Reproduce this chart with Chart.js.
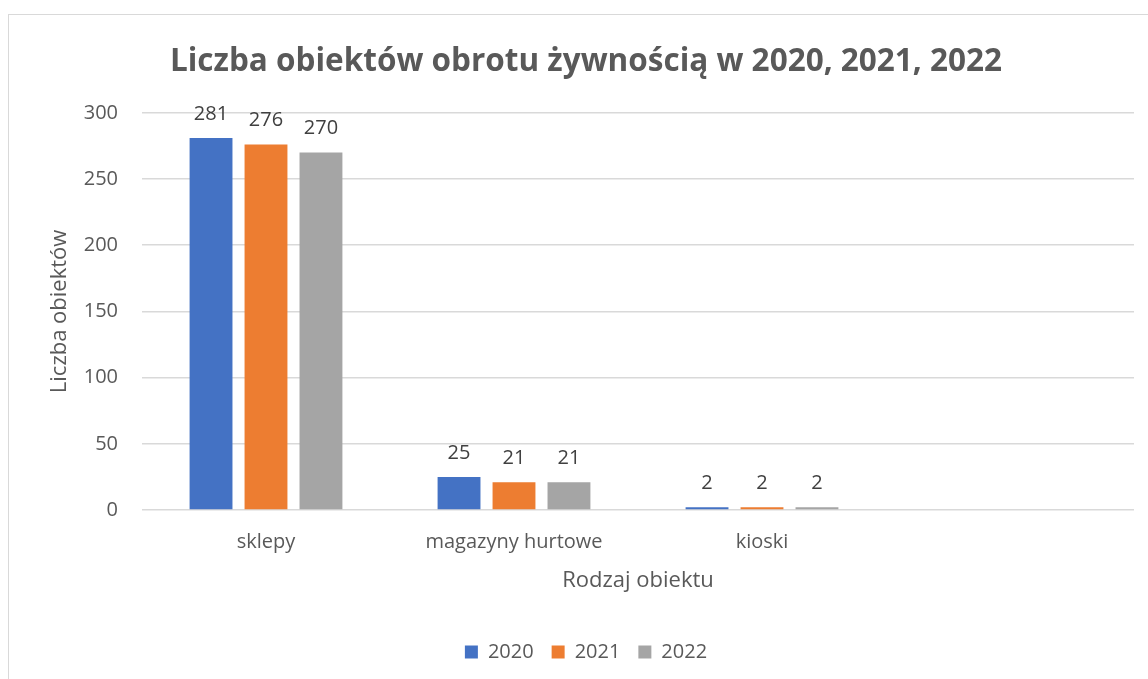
<!DOCTYPE html>
<html>
<head>
<meta charset="utf-8">
<script src="https://cdn.jsdelivr.net/npm/chart.js@4/dist/chart.umd.min.js"></script>
<style>
  html, body { margin: 0; padding: 0; background: #fff; overflow: hidden; }
  #frame {
    position: absolute; left: 8px; top: 14px;
    width: 1154px; height: 680px;
    border: 1px solid #d9d9d9;
  }
</style>
</head>
<body>
<div id="frame"><canvas id="chartJSContainer" width="1154" height="680"></canvas></div>
<script>
var categories = ["sklepy", "magazyny hurtowe", "kioski", ""];
var values2020 = [281, 25, 2, null];
var values2021 = [276, 21, 2, null];
var values2022 = [270, 21, 2, null];
var yTicks = [0, 50, 100, 150, 200, 250, 300];

var font = "'Open Sans', 'Noto Sans', sans-serif";
var textColor = "#595959";

// values above the bars
var barLabels = {
  id: "barLabels",
  afterDatasetsDraw: function (chart) {
    var ctx = chart.ctx;
    ctx.save();
    ctx.font = "20px " + font;
    ctx.fillStyle = "#404040";
    ctx.textAlign = "center";
    ctx.textBaseline = "middle";
    chart.data.datasets.forEach(function (ds, i) {
      chart.getDatasetMeta(i).data.forEach(function (bar, j) {
        if (ds.data[j] == null) return;
        ctx.fillText(ds.data[j], bar.x, bar.y - 24);
      });
    });
    ctx.restore();
  },
};

var options = {
  type: "bar",
  data: {
    labels: categories,
    datasets: [
      { label: "2020", data: values2020, backgroundColor: "#4472C4" },
      { label: "2021", data: values2021, backgroundColor: "#ED7D31" },
      { label: "2022", data: values2022, backgroundColor: "#A5A5A5" },
    ],
  },
  options: {
    responsive: false,
    animation: false,
    categoryPercentage: 0.665,
    barPercentage: 0.78,
    layout: {
      padding: { left: 0, right: 0, top: 0, bottom: 23 },
    },
    scales: {
      x: {
        grid: { display: false, drawTicks: false },
        border: { display: false },
        ticks: {
          color: textColor,
          font: { family: font, size: 20 },
          padding: 20,
        },
        title: {
          display: true,
          text: "Rodzaj obiektu",
          color: textColor,
          font: { family: font, size: 22 },
          padding: { top: 0, bottom: 30 },
        },
        afterFit: function (scale) {
          scale.height = 114;
        },
      },
      y: {
        min: 0,
        max: 300,
        afterBuildTicks: function (scale) {
          scale.ticks = yTicks.map(function (v) {
            return { value: v };
          });
        },
        grid: { color: "#d9d9d9", lineWidth: 1.5, drawTicks: false },
        border: { display: false },
        ticks: {
          color: textColor,
          font: { family: font, size: 20 },
          padding: 24,
        },
        title: {
          display: true,
          text: "Liczba obiektów",
          color: textColor,
          font: { family: font, size: 22 },
          padding: { top: 38, bottom: 0 },
        },
        afterFit: function (scale) {
          scale.width = 133;
        },
      },
      // empty strip on the right so the title and legend stay centred on the frame
      yRight: {
        position: "right",
        grid: { display: false, drawTicks: false },
        border: { display: false },
        ticks: { display: false },
        afterFit: function (scale) {
          scale.width = 29;
        },
      },
    },
    plugins: {
      title: {
        display: true,
        text: "Liczba obiektów obrotu żywnością w 2020, 2021, 2022",
        color: textColor,
        font: { family: font, size: 31.5, weight: "bold" },
        padding: { top: 28, bottom: 32 },
      },
      legend: {
        position: "bottom",
        labels: {
          color: textColor,
          font: { family: font, size: 20 },
          boxWidth: 13,
          boxHeight: 13,
          padding: 18,
        },
      },
      tooltip: { enabled: false },
    },
  },
  plugins: [barLabels],
};

var ctx = document.getElementById("chartJSContainer").getContext("2d");
window.test = new Chart(ctx, options);
</script>
</body>
</html>
